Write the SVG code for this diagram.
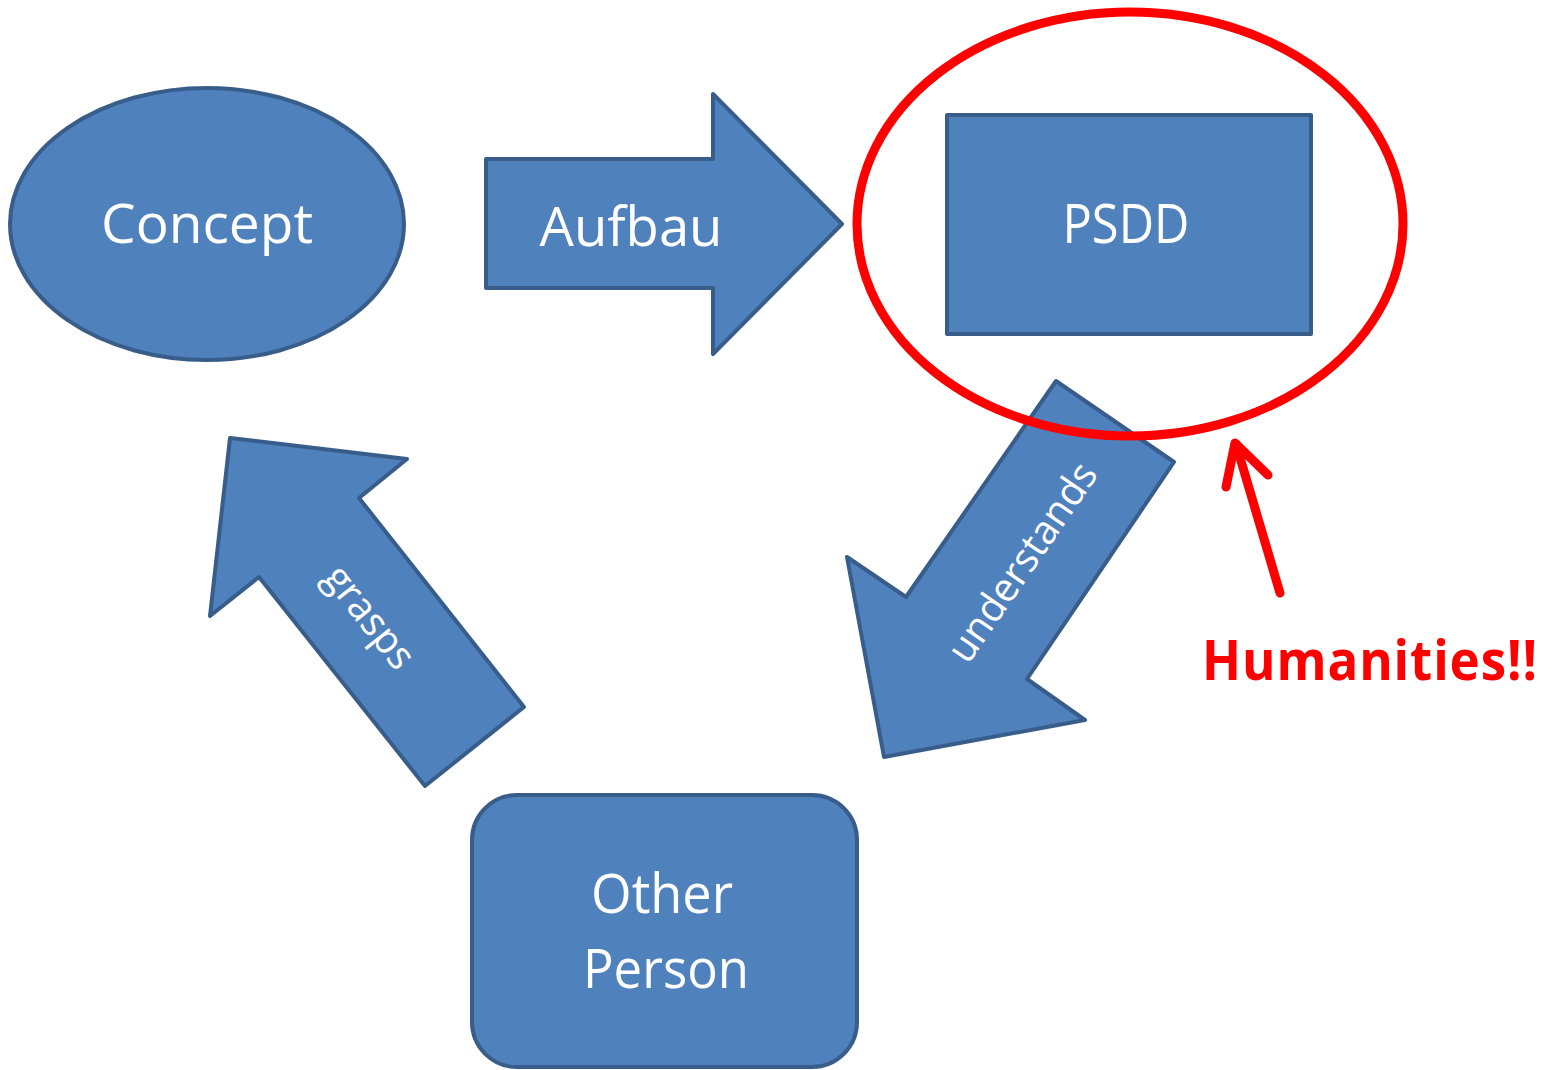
<svg xmlns="http://www.w3.org/2000/svg" width="1562" height="1070" viewBox="0 0 1562 1070">
  <style>
    .shape { fill: #4f81bd; stroke: #385d8a; stroke-width: 4; stroke-linejoin: round; }
    .label { fill: #ffffff; font-family: "Open Sans", "Noto Sans", "Liberation Sans", sans-serif; font-size: 55px; text-anchor: middle; }
    .small { font-size: 40px; }
    .mark { fill: none; stroke: #ff0000; stroke-linecap: round; stroke-linejoin: round; }
    .note { fill: #ff0000; font-family: "Open Sans", "Noto Sans", "Liberation Sans", sans-serif; font-weight: bold; font-size: 55px; }
  </style>
  <rect width="1562" height="1070" fill="#ffffff"/>

  <!-- nodes -->
  <g id="concept">
    <ellipse class="shape" cx="207" cy="224" rx="197" ry="136"/>
    <text class="label" x="207" y="243" textLength="212" lengthAdjust="spacingAndGlyphs">Concept</text>
  </g>
  <g id="psdd">
    <rect class="shape" x="947" y="115" width="364" height="219"/>
    <text class="label" x="1126" y="243" textLength="127" lengthAdjust="spacingAndGlyphs">PSDD</text>
  </g>
  <g id="other-person">
    <rect class="shape" x="472" y="795" width="385" height="272" rx="45" ry="45"/>
    <text class="label" x="662" y="913" textLength="142" lengthAdjust="spacingAndGlyphs">Other</text>
    <text class="label" x="666" y="988" textLength="166" lengthAdjust="spacingAndGlyphs">Person</text>
  </g>

  <!-- connectors: labelled block arrows -->
  <g id="connectors">
    <g id="aufbau">
      <polygon class="shape" points="486,159 713,159 713,94 842,224 713,354 713,288 486,288"/>
      <text class="label" x="631" y="246" textLength="183" lengthAdjust="spacingAndGlyphs">Aufbau</text>
    </g>
    <g id="understands">
      <polygon class="shape" points="1056,381 1174,462 1027,679 1085,720 884,757 847,557 906,597"/>
      <text class="label small" transform="translate(1022,562) rotate(-55.5)" y="14" textLength="232" lengthAdjust="spacingAndGlyphs">understands</text>
    </g>
    <g id="grasps">
      <polygon class="shape" points="230,438 407,459 359,498 524,707 425,786 259,577 210,616"/>
      <text class="label small" transform="translate(367,619) rotate(51.6)" y="10" textLength="120" lengthAdjust="spacingAndGlyphs">grasps</text>
    </g>
  </g>

  <!-- highlight around PSDD -->
  <g id="highlight">
    <ellipse class="mark" cx="1130" cy="224" rx="273" ry="212" stroke-width="9"/>
  </g>

  <!-- annotation -->
  <g id="annotation">
    <path class="mark" stroke-width="9" d="M1280,593 L1236,444"/>
    <path class="mark" stroke-width="9" d="M1226,487 L1235,443 L1268,475"/>
    <text class="note" x="1202" y="680" textLength="336" lengthAdjust="spacingAndGlyphs" letter-spacing="1">Humanities!!</text>
  </g>
</svg>
